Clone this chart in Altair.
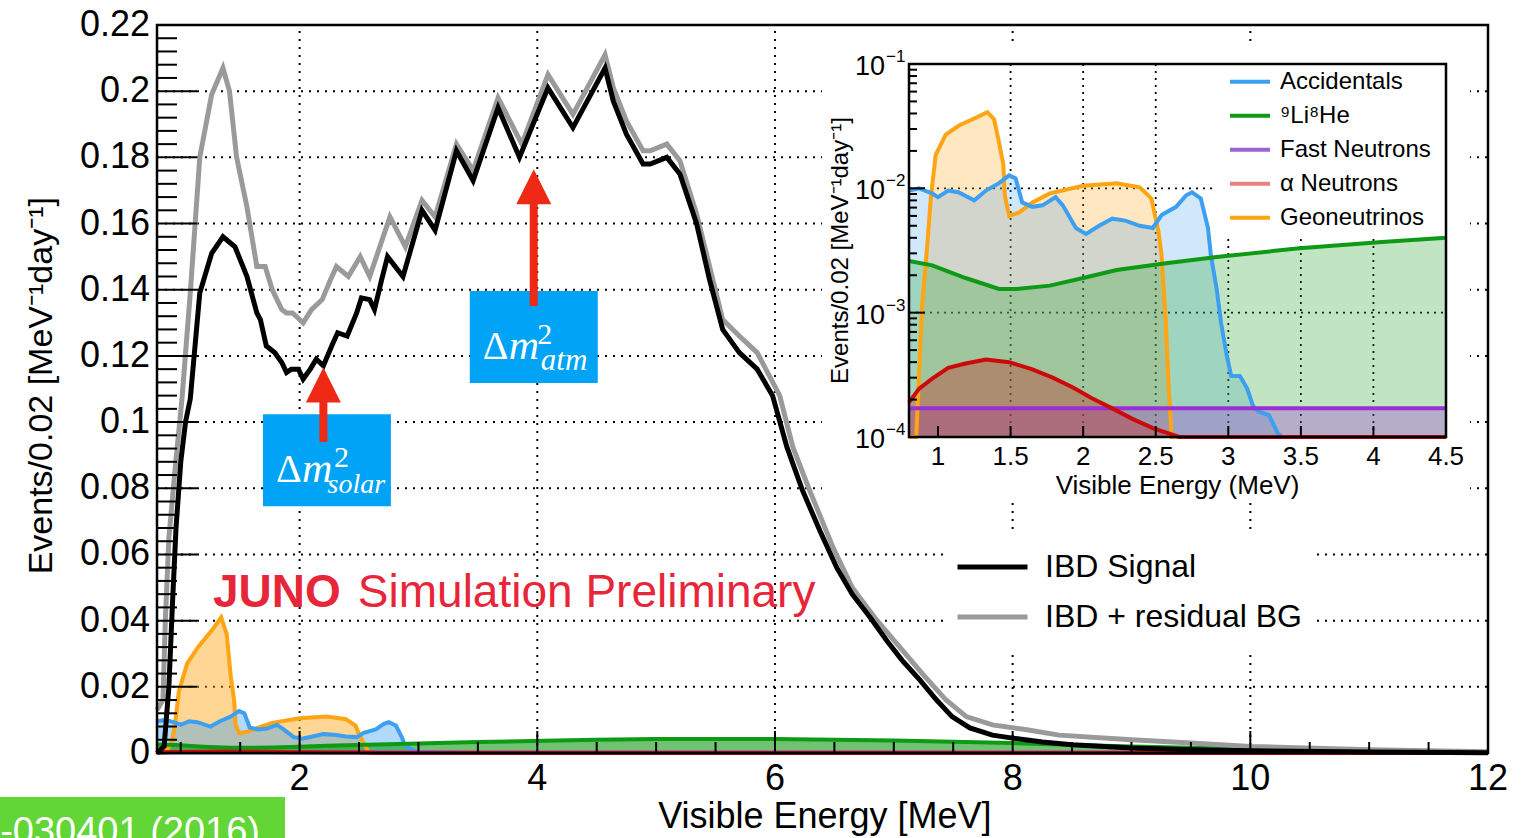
import altair as alt
import pandas as pd

# ---------------- data ----------------
# IBD signal (black) : energy [MeV], rate [events/0.02 MeV/day]
ibd_e = [0.80, 0.86, 0.90, 0.93, 0.96, 1.00, 1.04, 1.08, 1.16, 1.26,
         1.355, 1.456, 1.557, 1.64, 1.67, 1.72, 1.79, 1.85, 1.89, 1.93,
         1.99, 2.03, 2.09, 2.14, 2.20, 2.27, 2.32, 2.40, 2.48, 2.52,
         2.59, 2.63, 2.69, 2.74, 2.87, 3.03, 3.14, 3.32, 3.46, 3.67,
         3.85, 4.09, 4.30, 4.57, 4.64, 4.75, 4.89, 4.95, 5.09, 5.20,
         5.34, 5.45, 5.56, 5.70, 5.85, 5.98, 6.10, 6.23, 6.38, 6.52,
         6.65, 6.80, 6.94, 7.07, 7.22, 7.36, 7.49, 7.64, 7.83, 8.00,
         8.25, 8.50, 9.00, 9.50, 10.0, 11.0, 12.0]
ibd_r = [0.000, 0.002, 0.020, 0.045, 0.068, 0.088, 0.100, 0.107, 0.139, 0.151,
         0.156, 0.153, 0.144, 0.133, 0.131, 0.123, 0.121, 0.118, 0.115, 0.116,
         0.116, 0.113, 0.116, 0.119, 0.117, 0.123, 0.127, 0.126, 0.133, 0.1375,
         0.137, 0.134, 0.143, 0.150, 0.144, 0.164, 0.158, 0.182, 0.173, 0.195,
         0.180, 0.201, 0.189, 0.207, 0.197, 0.187, 0.178, 0.178, 0.180, 0.175,
         0.160, 0.143, 0.128, 0.121, 0.116, 0.108, 0.0925, 0.0795, 0.067, 0.056,
         0.048, 0.041, 0.034, 0.028, 0.022, 0.016, 0.011, 0.0076, 0.0054, 0.0045,
         0.0033, 0.0025, 0.0015, 0.0010, 0.0007, 0.0003, 0.0001]

# IBD + residual BG (grey)
tot_e = [0.80, 0.85, 0.87, 0.90, 0.95, 1.01, 1.08, 1.16, 1.26, 1.355,
         1.41, 1.47, 1.557, 1.64, 1.71, 1.77, 1.85, 1.89, 1.94, 2.03,
         2.10, 2.19, 2.26, 2.31, 2.41, 2.51, 2.59, 2.76, 2.89, 3.03,
         3.14, 3.32, 3.46, 3.67, 3.87, 4.09, 4.30, 4.57, 4.64, 4.75,
         4.89, 4.95, 5.09, 5.20, 5.34, 5.45, 5.56, 5.70, 5.85, 6.04,
         6.15, 6.29, 6.49, 6.65, 6.86, 7.05, 7.24, 7.44, 7.61, 7.83,
         8.12, 8.39, 9.0, 9.5, 10.0, 11.0, 12.0]
tot_r = [0.013, 0.016, 0.040, 0.065, 0.085, 0.107, 0.139, 0.180, 0.199, 0.207,
         0.200, 0.180, 0.165, 0.147, 0.147, 0.140, 0.134, 0.133, 0.133, 0.130,
         0.134, 0.137, 0.143, 0.147, 0.144, 0.150, 0.144, 0.162, 0.153, 0.167,
         0.162, 0.184, 0.176, 0.198, 0.184, 0.205, 0.193, 0.211, 0.201, 0.191,
         0.182, 0.182, 0.184, 0.179, 0.163, 0.147, 0.131, 0.126, 0.121, 0.108,
         0.0925, 0.0795, 0.062, 0.050, 0.040, 0.032, 0.024, 0.016, 0.011, 0.0085,
         0.0070, 0.0054, 0.0040, 0.0030, 0.0020, 0.0010, 0.0004]

# backgrounds
acc_e = [0.80, 0.87, 0.96, 1.00, 1.07, 1.14, 1.25, 1.33, 1.42, 1.49,
         1.535, 1.58, 1.65, 1.72, 1.81, 1.86, 1.95, 2.02, 2.11, 2.20,
         2.29, 2.39, 2.48, 2.54, 2.64, 2.71, 2.75, 2.81, 2.86, 2.88,
         2.92, 2.95, 2.99, 3.02, 3.08, 3.13, 3.17, 3.21, 3.28, 3.34, 3.37]
acc_r = [0.0096, 0.0100, 0.0091, 0.0085, 0.0096, 0.0093, 0.0080, 0.0096, 0.0110, 0.0127,
         0.0120, 0.0077, 0.0071, 0.0073, 0.0085, 0.0073, 0.0048, 0.0043, 0.0050, 0.0057,
         0.0055, 0.0050, 0.0048, 0.0061, 0.0071, 0.0088, 0.0093, 0.0083, 0.0048, 0.0029,
         0.00155, 0.00083, 0.00045, 0.00031, 0.00031, 0.000245, 0.000178, 0.00016, 0.00015, 0.000108, 0.0]

li_e = [0.80, 0.96, 1.19, 1.42, 1.54, 1.77, 2.00, 2.23, 2.57, 2.92, 3.49,
        4.06, 4.50, 5.0, 6.0, 7.0, 8.0, 9.0, 10.0, 11.0, 12.0]
li_r = [0.0026, 0.0024, 0.0019, 0.00155, 0.00155, 0.00165, 0.0019, 0.0022, 0.0025, 0.0028, 0.0033,
        0.0037, 0.0040, 0.0042, 0.0042, 0.0038, 0.0030, 0.0020, 0.0012, 0.0005, 0.0001]

fn_e = [0.80, 4.50, 12.0]
fn_r = [0.00017, 0.00017, 0.00017]

an_e = [0.80, 0.87, 0.96, 1.07, 1.19, 1.33, 1.49, 1.65, 1.79, 1.93,
        2.06, 2.20, 2.34, 2.48, 2.61, 2.66, 4.50, 12.0]
an_r = [0.00019, 0.000245, 0.000295, 0.00036, 0.00039, 0.00042, 0.00040, 0.00035, 0.00030, 0.00025,
        0.000205, 0.00017, 0.00014, 0.000118, 0.000105, 0.0, 0.0, 0.0]

geo_e = [0.80, 0.85, 0.89, 0.926, 0.95, 0.984, 1.053, 1.145, 1.26, 1.34,
         1.386, 1.42, 1.45, 1.46, 1.49, 1.56, 1.65, 1.77, 2.00, 2.23,
         2.39, 2.47, 2.50, 2.52, 2.54, 2.57, 2.59, 2.61, 2.65]
geo_r = [0.0, 0.0001, 0.00114, 0.0035, 0.0083, 0.0186, 0.027, 0.032, 0.037, 0.041,
         0.036, 0.0235, 0.0155, 0.0088, 0.0060, 0.0064, 0.0077, 0.0091, 0.0105, 0.0110,
         0.0102, 0.0083, 0.0057, 0.0044, 0.0029, 0.00083, 0.000245, 0.0001, 0.0]

ibd_names = ["IBD Signal", "IBD + residual BG"]
bg_names = ["Accidentals", "⁹Li⁸He", "Fast Neutrons", "α Neutrons", "Geoneutrinos"]

main_x_ticks = [2, 4, 6, 8, 10, 12]
main_x_labels = ["2", "4", "6", "8", "10", "12"]
main_x_minor = [1, 1.5, 2.5, 3, 3.5, 4.5, 5, 5.5, 6.5, 7, 7.5, 8.5, 9, 9.5, 10.5, 11, 11.5]
main_y_ticks = [0, 0.02, 0.04, 0.06, 0.08, 0.1, 0.12, 0.14, 0.16, 0.18, 0.2, 0.22]
main_y_labels = ["0", "0.02", "0.04", "0.06", "0.08", "0.1", "0.12", "0.14", "0.16", "0.18", "0.2", "0.22"]
main_y_minor = [round(i * 0.004, 3) for i in range(1, 55) if i % 5 != 0]
inset_x_ticks = [1, 1.5, 2, 2.5, 3, 3.5, 4, 4.5]
inset_x_labels = ["1", "1.5", "2", "2.5", "3", "3.5", "4", "4.5"]
inset_y_ticks = [0.0001, 0.001, 0.01, 0.1]
inset_y_exp = ["−4", "−3", "−2", "−1"]
inset_y_minor = [k * 10.0 ** p for p in (-4, -3, -2) for k in range(2, 10)]

# ---------------- tables ----------------
ibd = pd.DataFrame({
    "energy": tot_e + ibd_e,
    "rate": tot_r + ibd_r,
    "series": [ibd_names[1]] * len(tot_e) + [ibd_names[0]] * len(ibd_e),
})
rows = []
for name, es, rs in zip(bg_names, [acc_e, li_e, fn_e, an_e, geo_e], [acc_r, li_r, fn_r, an_r, geo_r]):
    for e, r in zip(es, rs):
        rows.append({"energy": e, "rate": r, "series": name})
bg = pd.DataFrame(rows)
one = pd.DataFrame({"k": [0]})
mx_lab = pd.DataFrame({"v": main_x_ticks, "t": main_x_labels})
my_lab = pd.DataFrame({"v": main_y_ticks, "t": main_y_labels})
ix_lab = pd.DataFrame({"v": inset_x_ticks, "t": inset_x_labels})
iy_lab = pd.DataFrame({"v": inset_y_ticks, "t": inset_y_exp})

# ---------------- styles ----------------
FONT = "Liberation Sans"
SERIF = "Liberation Serif"
LINE = {"Accidentals": "#3d9ff0", "⁹Li⁸He": "#0e9a14", "Fast Neutrons": "#9a2fd6",
        "α Neutrons": "#cc0a0a", "Geoneutrinos": "#ffa412"}
LEG = ["#3d9ff0", "#0e9a14", "#9d62d2", "#e88282", "#ffa412"]
MAIN_OP = {"Accidentals": 0.4, "⁹Li⁸He": 0.6, "Fast Neutrons": 0.5, "α Neutrons": 0.5, "Geoneutrinos": 0.45}
INSET_OP = {"Accidentals": 0.24, "⁹Li⁸He": 0.26, "Fast Neutrons": 0.3, "α Neutrons": 0.3, "Geoneutrinos": 0.26}
ORDER = ["Geoneutrinos", "Accidentals", "⁹Li⁸He", "Fast Neutrons", "α Neutrons"]
RED = "#ee2a16"
BOXBLUE = "#00a3f5"

SXm = alt.Scale(domain=[0.8, 12], nice=False, zero=False)
SYm = alt.Scale(domain=[0, 0.22], nice=False, zero=False)
SXi = alt.Scale(domain=[0.8, 4.5], range=[752, 1289], nice=False, zero=False)
SYi = alt.Scale(type="log", domain=[0.0001, 0.1], range=[412, 39], nice=False)

main_legend = alt.Legend(title=None, orient="none", legendX=788, legendY=507, symbolType="stroke",
                         symbolSize=4900, symbolStrokeWidth=5, labelFontSize=32, labelFont=FONT,
                         labelOffset=15, clipHeight=50, rowPadding=0, padding=10, fillColor="white",
                         labelLimit=0, labelColor="black")
inset_legend = alt.Legend(title=None, orient="none", legendX=1071, legendY=40, symbolType="stroke",
                          symbolSize=1600, symbolStrokeWidth=4, labelFontSize=24, labelFont=FONT,
                          labelOffset=8, clipHeight=33.5, rowPadding=0, padding=0,
                          labelLimit=0, labelColor="black")


def xm(f="energy:Q"):
    return alt.X(f, scale=SXm, axis=None)


def ym(f="rate:Q"):
    return alt.Y(f, scale=SYm, axis=None)


def xi(f="energy:Q"):
    return alt.X(f, scale=SXi, axis=None)


def yi(f="rl:Q"):
    return alt.Y(f, scale=SYi, axis=None)


def dxm(v):
    return alt.XDatum(v, scale=SXm, axis=None)


def dym(v):
    return alt.YDatum(v, scale=SYm, axis=None)


def dxi(v):
    return alt.XDatum(v, scale=SXi, axis=None)


def dyi(v):
    return alt.YDatum(v, scale=SYi, axis=None)


def txt(x, y, s, size, color="black", font=FONT, style="normal", weight="normal", align="left"):
    return alt.Chart(one).mark_text(text=s, fontSize=size, font=font, fontStyle=style, fontWeight=weight,
                                    color=color, align=align, baseline="alphabetic").encode(
        x=dxm(x), y=dym(y))


# ---------------- main plot ----------------
main_layers = []
# dotted grid
main_layers.append(alt.Chart(pd.DataFrame({"v": main_x_ticks[:-1]})).mark_rule(
    color="black", strokeWidth=2, strokeDash=[2, 6]).encode(
    x=xm("v:Q"), y=dym(0), y2=alt.Y2Datum(0.22)))
main_layers.append(alt.Chart(pd.DataFrame({"v": main_y_ticks[1:-1]})).mark_rule(
    color="black", strokeWidth=2, strokeDash=[2, 6]).encode(
    y=ym("v:Q"), x=dxm(0.8), x2=alt.X2Datum(12)))

for name in ORDER:
    main_layers.append(
        alt.Chart(bg).transform_filter(alt.datum.series == name)
        .mark_area(color=LINE[name], opacity=MAIN_OP[name])
        .encode(x=xm(), y=ym(), y2=alt.Y2Datum(0)))
for name in ORDER:
    main_layers.append(
        alt.Chart(bg).transform_filter(alt.datum.series == name)
        .mark_line(color=LINE[name], strokeWidth=4)
        .encode(x=xm(), y=ym()))

ibd_color = alt.Color("series:N", scale=alt.Scale(domain=ibd_names, range=["black", "#9a9a9a"]),
                      legend=main_legend)
main_layers.append(
    alt.Chart(ibd).transform_filter(alt.datum.series == ibd_names[1])
    .mark_line(strokeWidth=5).encode(x=xm(), y=ym(), color=ibd_color))
main_layers.append(
    alt.Chart(ibd).transform_filter(alt.datum.series == ibd_names[0])
    .mark_line(strokeWidth=5).encode(x=xm(), y=ym(), color=ibd_color))

# inward ticks
main_layers.append(alt.Chart(pd.DataFrame({"v": main_x_ticks[:-1]})).mark_rule(
    color="black", strokeWidth=2, y2Offset=-22).encode(x=xm("v:Q"), y=dym(0), y2=alt.Y2Datum(0)))
main_layers.append(alt.Chart(pd.DataFrame({"v": main_x_minor})).mark_rule(
    color="black", strokeWidth=2, y2Offset=-11).encode(x=xm("v:Q"), y=dym(0), y2=alt.Y2Datum(0)))
main_layers.append(alt.Chart(pd.DataFrame({"v": main_y_ticks[1:-1]})).mark_rule(
    color="black", strokeWidth=2, x2Offset=40).encode(y=ym("v:Q"), x=dxm(0.8), x2=alt.X2Datum(0.8)))
main_layers.append(alt.Chart(pd.DataFrame({"v": main_y_minor})).mark_rule(
    color="black", strokeWidth=2, x2Offset=20).encode(y=ym("v:Q"), x=dxm(0.8), x2=alt.X2Datum(0.8)))

# tick labels and axis titles
main_layers.append(alt.Chart(mx_lab).mark_text(fontSize=36, font=FONT, color="black", align="center",
                                               baseline="alphabetic", dy=37).encode(
    x=xm("v:Q"), y=dym(0), text="t:N"))
main_layers.append(alt.Chart(my_lab).mark_text(fontSize=36, font=FONT, color="black", align="right",
                                               baseline="middle", dx=-7).encode(
    y=ym("v:Q"), x=dxm(0.8), text="t:N"))
main_layers.append(alt.Chart(one).mark_text(text="Visible Energy [MeV]", fontSize=36, font=FONT,
                                            color="black", align="center", baseline="alphabetic",
                                            dy=75).encode(x=dxm(6.42), y=dym(0)))
main_layers.append(alt.Chart(one).mark_text(text="Events/0.02 [MeV⁻¹day⁻¹]", fontSize=34, font=FONT,
                                            color="black", align="center", baseline="middle",
                                            angle=270).encode(x=alt.value(-115), y=dym(0.111)))

# annotations: oscillation boxes and arrows
for (bx0, bx1, by0, by1) in [(3.432, 4.509, 0.1118, 0.1396), (1.692, 2.768, 0.0746, 0.1024)]:
    main_layers.append(alt.Chart(one).mark_rect(color=BOXBLUE).encode(
        x=dxm(bx0), x2=alt.X2Datum(bx1), y=dym(by0), y2=alt.Y2Datum(by1)))
for (ax, ay0, ay1, hy) in [(3.97, 0.1351, 0.172, 0.1711), (2.20, 0.094, 0.110, 0.1112)]:
    main_layers.append(alt.Chart(one).mark_rule(color=RED, strokeWidth=8).encode(
        x=dxm(ax), y=dym(ay0), y2=alt.Y2Datum(ay1)))
    main_layers.append(alt.Chart(one).mark_point(shape="M0,-1L1,1L-1,1Z", size=1225, filled=True,
                                                 color=RED, opacity=1, strokeWidth=0).encode(
        x=dxm(ax), y=dym(hy)))

main_layers += [
    txt(3.542, 0.1191, "Δ", 40, "white", SERIF),
    txt(3.760, 0.1191, "m", 42, "white", SERIF, "italic"),
    txt(4.000, 0.1236, "2", 30, "white", SERIF),
    txt(4.030, 0.1157, "atm", 31, "white", SERIF, "italic"),
    txt(1.801, 0.0819, "Δ", 40, "white", SERIF),
    txt(2.020, 0.0819, "m", 42, "white", SERIF, "italic"),
    txt(2.290, 0.0864, "2", 30, "white", SERIF),
    txt(2.235, 0.0786, "solar", 28, "white", SERIF, "italic"),
    txt(1.271, 0.0441, "JUNO", 46, "#e8263a", FONT, "normal", "bold"),
    txt(2.49, 0.0441, "Simulation Preliminary", 46, "#e8263a"),
]

# frame
main_layers.append(alt.Chart(one).mark_rect(fillOpacity=0, stroke="black", strokeWidth=2.5).encode(
    x=dxm(0.8), x2=alt.X2Datum(12), y=dym(0), y2=alt.Y2Datum(0.22)))

# citation tag (partly outside the canvas, as in the original)
main_layers.append(alt.Chart(one).mark_rect(color="#62d636").encode(
    x=alt.value(-157), x2=alt.value(128), y=alt.value(772), y2=alt.value(813)))
main_layers.append(alt.Chart(one).mark_text(text="J. Phys. G 43 -030401 (2016)", fontSize=38, font=FONT,
                                            color="white", align="right", baseline="alphabetic").encode(
    x=alt.value(103), y=alt.value(819)))

main = alt.layer(*main_layers)

# ---------------- inset ----------------
inset_layers = []
inset_layers.append(alt.Chart(one).mark_rect(color="white").encode(
    x=alt.value(665), x2=alt.value(1313), y=alt.value(20), y2=alt.value(475)))
inset_layers.append(alt.Chart(pd.DataFrame({"v": inset_x_ticks[1:-1]})).mark_rule(
    color="black", strokeWidth=1.8, strokeDash=[2, 5]).encode(
    x=xi("v:Q"), y=dyi(0.0001), y2=alt.Y2Datum(0.1)))
inset_layers.append(alt.Chart(pd.DataFrame({"v": [0.001, 0.01]})).mark_rule(
    color="black", strokeWidth=1.8, strokeDash=[2, 5]).encode(
    y=yi("v:Q"), x=dxi(0.8), x2=alt.X2Datum(4.5)))


def inset_base(name):
    return (alt.Chart(bg).transform_filter(alt.datum.series == name)
            .transform_filter(alt.datum.energy <= 4.5)
            .transform_calculate(rl="max(datum.rate, 0.0001)"))


for name in ORDER:
    inset_layers.append(inset_base(name).mark_area(color=LINE[name], opacity=INSET_OP[name]).encode(
        x=xi(), y=yi(), y2=alt.Y2Datum(0.0001)))
for name in ORDER:
    inset_layers.append(inset_base(name).mark_line(color=LINE[name], strokeWidth=4).encode(
        x=xi(), y=yi()))

# inset ticks
inset_layers.append(alt.Chart(pd.DataFrame({"v": [0.001, 0.01]})).mark_rule(
    color="black", strokeWidth=2, x2Offset=16).encode(y=yi("v:Q"), x=dxi(0.8), x2=alt.X2Datum(0.8)))
inset_layers.append(alt.Chart(pd.DataFrame({"v": inset_y_minor})).mark_rule(
    color="black", strokeWidth=2, x2Offset=8).encode(y=yi("v:Q"), x=dxi(0.8), x2=alt.X2Datum(0.8)))
inset_layers.append(alt.Chart(pd.DataFrame({"v": inset_x_ticks[:-1]})).mark_rule(
    color="black", strokeWidth=2, y2Offset=-11).encode(x=xi("v:Q"), y=dyi(0.0001), y2=alt.Y2Datum(0.0001)))

# inset tick labels and titles
inset_layers.append(alt.Chart(ix_lab).mark_text(fontSize=26, font=FONT, color="black", align="center",
                                                baseline="alphabetic", dy=28).encode(
    x=xi("v:Q"), y=dyi(0.0001), text="t:N"))
inset_layers.append(alt.Chart(iy_lab).mark_text(text="10", fontSize=27, font=FONT, color="black",
                                                align="right", baseline="middle", dx=-24, dy=3).encode(
    y=yi("v:Q"), x=dxi(0.8)))
inset_layers.append(alt.Chart(iy_lab).mark_text(fontSize=17, font=FONT, color="black",
                                                align="left", baseline="middle", dx=-23, dy=-7).encode(
    y=yi("v:Q"), x=dxi(0.8), text="t:N"))
inset_layers.append(alt.Chart(one).mark_text(text="Visible Energy (MeV)", fontSize=26, font=FONT,
                                             color="black", align="center", baseline="alphabetic",
                                             dy=57).encode(x=dxi(2.65), y=dyi(0.0001)))
inset_layers.append(alt.Chart(one).mark_text(text="Events/0.02 [MeV⁻¹day⁻¹]", fontSize=24, font=FONT,
                                             color="black", align="center", baseline="middle",
                                             angle=270).encode(x=alt.value(684), y=dyi(0.00316)))

# legend box
inset_layers.append(alt.Chart(one).mark_rect(color="white").encode(
    x=alt.value(1057), x2=alt.value(1288), y=alt.value(40), y2=alt.value(211)))
# frame
inset_layers.append(alt.Chart(one).mark_rect(fillOpacity=0, stroke="black", strokeWidth=2.5).encode(
    x=dxi(0.8), x2=alt.X2Datum(4.5), y=dyi(0.0001), y2=alt.Y2Datum(0.1)))
# legend carrier (no rows drawn)
inset_layers.append(alt.Chart(bg).transform_filter(alt.datum.energy < 0).mark_line(strokeWidth=4).encode(
    x=xi(), y=alt.Y("rate:Q", scale=SYi, axis=None),
    color=alt.Color("series:N", scale=alt.Scale(domain=bg_names, range=LEG), legend=inset_legend)))

inset = alt.layer(*inset_layers)

chart = (alt.layer(main, inset)
         .resolve_scale(x="independent", y="independent", color="independent")
         .properties(width=1331, height=728,
                     padding={"left": 157, "top": 25, "right": 40, "bottom": 85},
                     autosize=alt.AutoSizeParams(type="none"), background="white")
         .configure_view(stroke="transparent")
         .configure_legend(labelFont=FONT)
         .configure_text(font=FONT))

chart.save("out.html", embed_options={"renderer": "svg", "actions": False})
